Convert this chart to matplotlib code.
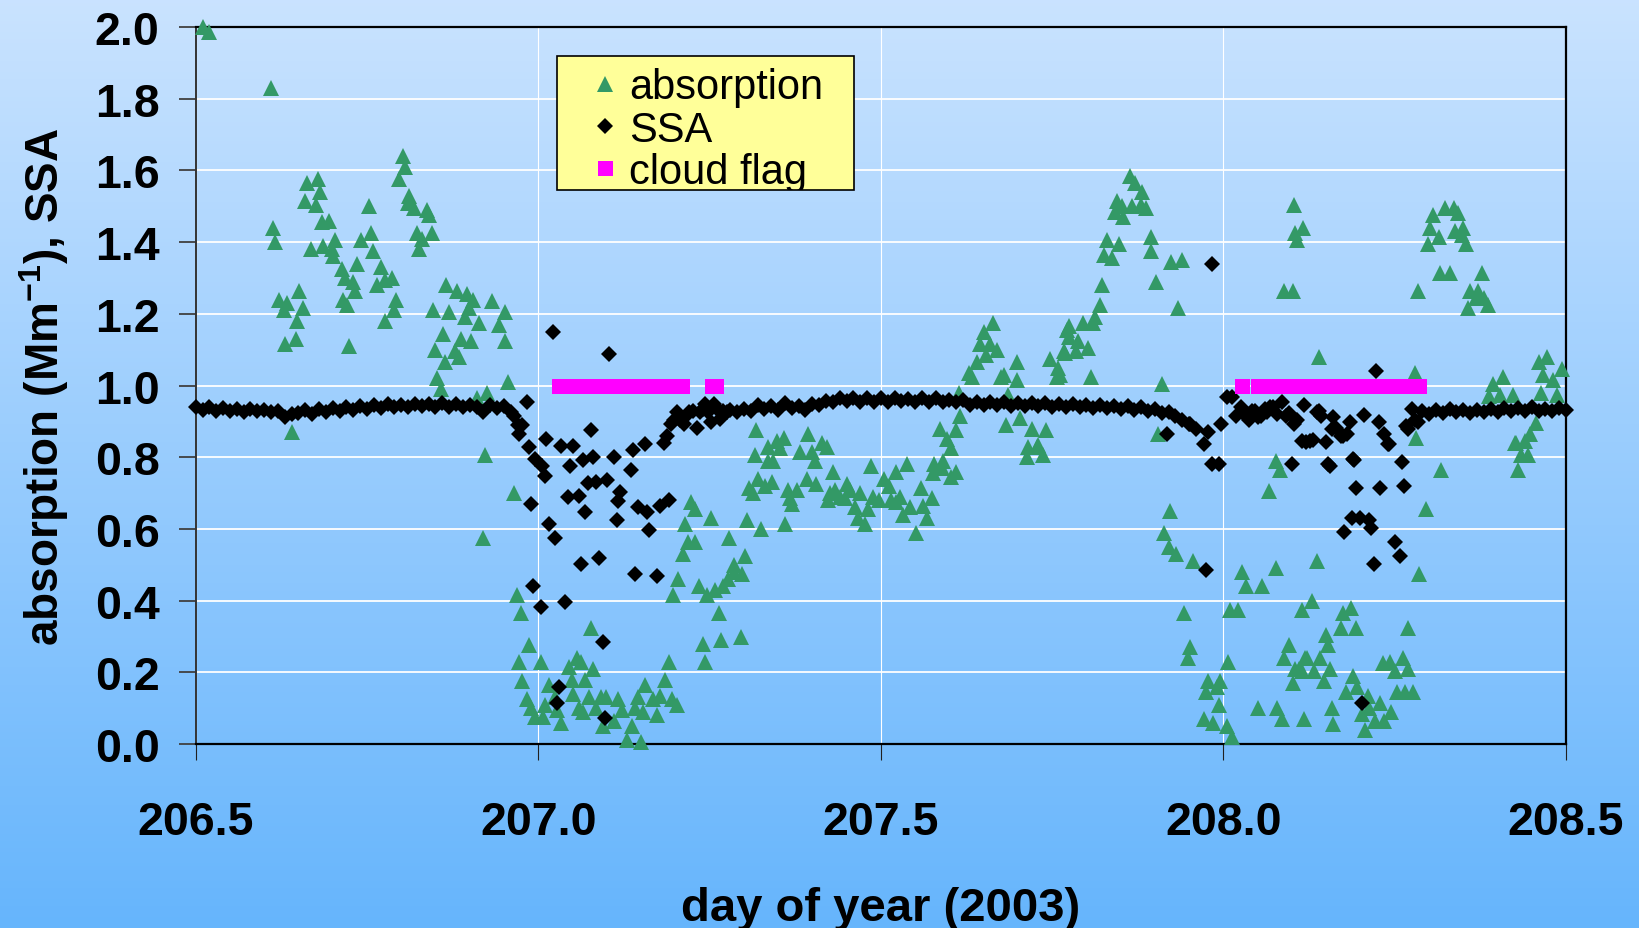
import numpy as np
import matplotlib
matplotlib.use("Agg")
import matplotlib.pyplot as plt
from matplotlib.patches import Rectangle

plt.rcParams['font.family'] = ['Liberation Sans', 'DejaVu Sans']
plt.rcParams['mathtext.fontset'] = 'custom'
plt.rcParams['mathtext.rm'] = 'Liberation Sans'
plt.rcParams['mathtext.bf'] = 'Liberation Sans:bold'

# absorption (Mm-1): (day of year, value)
absorption = [
    (206.511, 2.00), (206.519, 1.985), (206.610, 1.83), (206.613, 1.44), (206.616, 1.40),
    (206.622, 1.24), (206.629, 1.21), (206.631, 1.115), (206.634, 1.23), (206.640, 0.87),
    (206.646, 1.13), (206.648, 1.18), (206.651, 1.265), (206.657, 1.215), (206.660, 1.515),
    (206.663, 1.565), (206.669, 1.38), (206.675, 1.505), (206.678, 1.575), (206.681, 1.54),
    (206.685, 1.455), (206.686, 1.39), (206.694, 1.46), (206.699, 1.38), (206.701, 1.36),
    (206.704, 1.405), (206.713, 1.325), (206.715, 1.24), (206.718, 1.30), (206.721, 1.225),
    (206.724, 1.11), (206.730, 1.29), (206.733, 1.265), (206.736, 1.34), (206.742, 1.405),
    (206.753, 1.50), (206.756, 1.425), (206.759, 1.375), (206.764, 1.28), (206.771, 1.33),
    (206.776, 1.295), (206.776, 1.18), (206.786, 1.30), (206.789, 1.21), (206.793, 1.24),
    (206.797, 1.575), (206.803, 1.64), (206.806, 1.61), (206.810, 1.51), (206.811, 1.53),
    (206.819, 1.495), (206.823, 1.425), (206.826, 1.38), (206.830, 1.41), (206.837, 1.49),
    (206.841, 1.475), (206.845, 1.425), (206.846, 1.21), (206.849, 1.10), (206.852, 1.02),
    (206.858, 0.99), (206.861, 1.145), (206.864, 1.065), (206.866, 1.28), (206.870, 1.205),
    (206.879, 1.095), (206.881, 1.265), (206.885, 1.08), (206.887, 1.13), (206.893, 1.19),
    (206.896, 1.255), (206.899, 1.215), (206.902, 1.125), (206.905, 1.24), (206.910, 0.965),
    (206.914, 1.175), (206.919, 0.575), (206.922, 0.805), (206.925, 0.98), (206.933, 1.235),
    (206.942, 1.17), (206.951, 1.125), (206.952, 1.205), (206.956, 1.01), (206.965, 0.70),
    (206.969, 0.415), (206.972, 0.23), (206.975, 0.365), (206.977, 0.175), (206.984, 0.125),
    (206.987, 0.275), (206.990, 0.10), (206.995, 0.075), (207.004, 0.23), (207.007, 0.075),
    (207.010, 0.11), (207.016, 0.165), (207.025, 0.13), (207.028, 0.095), (207.033, 0.06),
    (207.045, 0.215), (207.049, 0.18), (207.050, 0.14), (207.056, 0.24), (207.059, 0.10),
    (207.063, 0.23), (207.066, 0.09), (207.068, 0.18), (207.074, 0.13), (207.077, 0.325),
    (207.080, 0.21), (207.085, 0.10), (207.091, 0.13), (207.094, 0.05), (207.099, 0.13),
    (207.110, 0.065), (207.117, 0.125), (207.122, 0.095), (207.130, 0.01), (207.137, 0.05),
    (207.141, 0.10), (207.146, 0.13), (207.150, 0.005), (207.153, 0.09), (207.156, 0.165),
    (207.168, 0.125), (207.173, 0.08), (207.178, 0.135), (207.185, 0.18), (207.191, 0.23),
    (207.195, 0.125), (207.196, 0.415), (207.202, 0.11), (207.204, 0.46), (207.211, 0.53),
    (207.214, 0.615), (207.219, 0.565), (207.223, 0.675), (207.229, 0.655), (207.229, 0.565),
    (207.234, 0.44), (207.240, 0.28), (207.243, 0.23), (207.246, 0.415), (207.252, 0.63),
    (207.258, 0.43), (207.264, 0.365), (207.267, 0.29), (207.270, 0.44), (207.277, 0.46),
    (207.278, 0.575), (207.285, 0.48), (207.286, 0.50), (207.296, 0.30), (207.298, 0.475),
    (207.302, 0.525), (207.304, 0.625), (207.307, 0.715), (207.313, 0.70), (207.316, 0.805),
    (207.318, 0.875), (207.321, 0.74), (207.325, 0.60), (207.331, 0.72), (207.335, 0.79),
    (207.336, 0.83), (207.341, 0.73), (207.342, 0.79), (207.348, 0.845), (207.353, 0.825),
    (207.358, 0.855), (207.360, 0.615), (207.365, 0.71), (207.367, 0.685), (207.371, 0.67),
    (207.377, 0.71), (207.382, 0.815), (207.392, 0.74), (207.394, 0.865), (207.399, 0.815),
    (207.404, 0.79), (207.406, 0.725), (207.414, 0.84), (207.422, 0.83), (207.423, 0.68),
    (207.426, 0.70), (207.430, 0.76), (207.433, 0.71), (207.440, 0.69), (207.448, 0.685),
    (207.450, 0.725), (207.455, 0.71), (207.462, 0.66), (207.467, 0.63), (207.469, 0.70),
    (207.477, 0.615), (207.481, 0.655), (207.485, 0.775), (207.489, 0.69), (207.498, 0.68),
    (207.504, 0.74), (207.512, 0.72), (207.515, 0.68), (207.522, 0.76), (207.522, 0.675),
    (207.528, 0.69), (207.533, 0.64), (207.538, 0.78), (207.543, 0.66), (207.552, 0.59),
    (207.558, 0.715), (207.562, 0.665), (207.567, 0.63), (207.574, 0.685), (207.576, 0.755),
    (207.577, 0.78), (207.586, 0.88), (207.589, 0.77), (207.591, 0.79), (207.596, 0.85),
    (207.602, 0.745), (207.603, 0.825), (207.609, 0.76), (207.610, 0.875), (207.614, 0.98),
    (207.615, 0.915), (207.628, 1.035), (207.633, 1.025), (207.640, 1.065), (207.644, 1.115),
    (207.650, 1.15), (207.653, 1.085), (207.660, 1.115), (207.663, 1.175), (207.670, 1.10),
    (207.676, 1.025), (207.680, 1.03), (207.683, 0.89), (207.686, 0.975), (207.698, 1.065),
    (207.698, 1.015), (207.703, 0.91), (207.713, 0.80), (207.715, 0.83), (207.720, 0.88),
    (207.728, 0.83), (207.730, 0.835), (207.737, 0.805), (207.741, 0.875), (207.747, 1.075),
    (207.757, 1.025), (207.759, 1.05), (207.762, 1.03), (207.767, 1.095), (207.769, 1.09),
    (207.771, 1.155), (207.774, 1.165), (207.775, 1.135), (207.785, 1.095), (207.788, 1.125),
    (207.795, 1.175), (207.802, 1.105), (207.806, 1.025), (207.810, 1.175), (207.813, 1.19),
    (207.820, 1.225), (207.823, 1.28), (207.825, 1.365), (207.830, 1.405), (207.837, 1.355),
    (207.842, 1.485), (207.844, 1.515), (207.847, 1.395), (207.852, 1.50), (207.854, 1.47),
    (207.864, 1.585), (207.866, 1.50), (207.871, 1.565), (207.879, 1.505), (207.881, 1.54),
    (207.887, 1.495), (207.895, 1.415), (207.895, 1.375), (207.902, 1.29), (207.905, 0.865),
    (207.911, 1.005), (207.913, 0.59), (207.920, 0.55), (207.922, 0.65), (207.924, 1.345),
    (207.931, 0.53), (207.934, 1.215), (207.939, 1.35), (207.943, 0.365), (207.948, 0.24),
    (207.951, 0.27), (207.955, 0.51), (207.971, 0.07), (207.975, 0.145), (207.977, 0.175),
    (207.985, 0.06), (207.990, 0.16), (207.993, 0.11), (207.995, 0.175), (208.005, 0.05),
    (208.007, 0.23), (208.009, 0.375), (208.012, 0.02), (208.021, 0.375), (208.027, 0.48),
    (208.033, 0.44), (208.051, 0.10), (208.056, 0.44), (208.067, 0.705), (208.076, 0.79),
    (208.077, 0.49), (208.078, 0.10), (208.082, 0.765), (208.085, 0.07), (208.088, 1.265),
    (208.089, 0.24), (208.095, 0.275), (208.101, 0.17), (208.101, 1.265), (208.103, 1.505),
    (208.105, 1.425), (208.105, 0.21), (208.108, 1.405), (208.110, 0.21), (208.115, 0.375),
    (208.115, 0.205), (208.116, 1.44), (208.118, 0.07), (208.119, 0.24), (208.122, 0.24),
    (208.129, 0.40), (208.132, 0.205), (208.136, 0.51), (208.139, 1.08), (208.141, 0.24),
    (208.147, 0.175), (208.150, 0.305), (208.152, 0.275), (208.156, 0.21), (208.159, 0.10),
    (208.160, 0.055), (208.171, 0.325), (208.175, 0.365), (208.179, 0.145), (208.186, 0.38),
    (208.189, 0.19), (208.194, 0.325), (208.195, 0.16), (208.202, 0.085), (208.206, 0.04),
    (208.211, 0.135), (208.213, 0.10), (208.221, 0.065), (208.229, 0.115), (208.233, 0.225),
    (208.234, 0.065), (208.243, 0.23), (208.244, 0.09), (208.250, 0.205), (208.253, 0.145),
    (208.262, 0.24), (208.265, 0.145), (208.269, 0.325), (208.270, 0.21), (208.277, 0.145),
    (208.279, 1.035), (208.281, 0.855), (208.284, 1.265), (208.286, 0.475), (208.295, 0.655),
    (208.299, 1.395), (208.301, 1.44), (208.306, 1.475), (208.314, 1.415), (208.316, 1.315),
    (208.318, 0.765), (208.323, 1.495), (208.331, 1.315), (208.336, 1.495), (208.338, 1.43),
    (208.343, 1.48), (208.348, 1.42), (208.350, 1.44), (208.354, 1.395), (208.357, 1.215),
    (208.360, 1.265), (208.368, 1.245), (208.372, 1.265), (208.377, 1.315), (208.380, 1.245),
    (208.386, 1.225), (208.387, 0.97), (208.394, 1.005), (208.404, 0.975), (208.408, 1.025),
    (208.423, 0.975), (208.425, 0.84), (208.427, 0.84), (208.430, 0.765), (208.435, 0.805),
    (208.440, 0.845), (208.445, 0.805), (208.447, 0.865), (208.456, 0.895), (208.461, 1.065),
    (208.464, 0.98), (208.467, 1.03), (208.472, 1.08), (208.481, 1.015), (208.487, 0.975),
    (208.494, 1.045),
]

# SSA, steady stretches sampled every 0.01 day
ssa_run1_start = 206.50
ssa_run1 = [0.940, 0.932, 0.939, 0.930, 0.938, 0.929, 0.936, 0.927, 0.935, 0.928,
            0.933, 0.925, 0.929, 0.913, 0.921, 0.923, 0.932, 0.922, 0.934, 0.925,
            0.937, 0.928, 0.940, 0.933, 0.942, 0.936, 0.946, 0.937, 0.948, 0.940,
            0.947, 0.941, 0.949, 0.942, 0.948, 0.940, 0.950, 0.941, 0.949, 0.940,
            0.946, 0.939, 0.926, 0.946, 0.938, 0.942, 0.925]
ssa_run2_start = 207.28
ssa_run2 = [0.933, 0.926, 0.936, 0.929, 0.946, 0.935, 0.944, 0.933, 0.952, 0.937,
            0.942, 0.933, 0.948, 0.945, 0.957, 0.955, 0.966, 0.956, 0.966, 0.954,
            0.965, 0.955, 0.965, 0.953, 0.964, 0.957, 0.963, 0.953, 0.965, 0.954,
            0.966, 0.955, 0.961, 0.953, 0.961, 0.947, 0.955, 0.946, 0.954, 0.945,
            0.953, 0.944, 0.952, 0.943, 0.951, 0.942, 0.950, 0.941, 0.949, 0.940,
            0.948, 0.939, 0.947, 0.938, 0.946, 0.937, 0.944, 0.935, 0.943, 0.932,
            0.940, 0.930, 0.934, 0.924, 0.926, 0.914, 0.905, 0.892]
ssa_run3_start = 208.29
ssa_run3 = [0.928, 0.922, 0.932, 0.924, 0.934, 0.925, 0.931, 0.924, 0.933, 0.926,
            0.934, 0.927, 0.937, 0.928, 0.938, 0.929, 0.939, 0.930, 0.936, 0.929,
            0.937, 0.931]

# SSA during the two cloudy periods: (day, value)
ssa_scatter = [
    (206.965, 0.915), (206.970, 0.890), (206.972, 0.865), (206.976, 0.890), (206.984, 0.955),
    (206.986, 0.828), (206.989, 0.671), (206.992, 0.442), (206.995, 0.795), (207.004, 0.381),
    (207.005, 0.776), (207.010, 0.748), (207.012, 0.851), (207.015, 0.614), (207.021, 1.148),
    (207.025, 0.575), (207.027, 0.114), (207.030, 0.158), (207.033, 0.832), (207.039, 0.397),
    (207.044, 0.688), (207.047, 0.776), (207.050, 0.832), (207.059, 0.693), (207.062, 0.503),
    (207.065, 0.793), (207.068, 0.648), (207.073, 0.728), (207.077, 0.877), (207.080, 0.800),
    (207.085, 0.732), (207.088, 0.520), (207.094, 0.285), (207.097, 0.074), (207.100, 0.737),
    (207.103, 1.088), (207.111, 0.800), (207.115, 0.625), (207.117, 0.679), (207.120, 0.702),
    (207.135, 0.765), (207.138, 0.821), (207.141, 0.474), (207.146, 0.660), (207.156, 0.837),
    (207.158, 0.648), (207.161, 0.598), (207.173, 0.470), (207.178, 0.665), (207.184, 0.841),
    (207.188, 0.860), (207.191, 0.681), (207.194, 0.893), (207.198, 0.905), (207.202, 0.925),
    (207.207, 0.905), (207.212, 0.893), (207.215, 0.916), (207.220, 0.925), (207.226, 0.930),
    (207.231, 0.883), (207.236, 0.925), (207.240, 0.935), (207.244, 0.948), (207.248, 0.925),
    (207.252, 0.897), (207.257, 0.948), (207.261, 0.935), (207.265, 0.907), (207.270, 0.930),
    (207.275, 0.925),
    (207.918, 0.865), (207.951, 0.893), (207.960, 0.880), (207.972, 0.837), (207.975, 0.486),
    (207.978, 0.871), (207.983, 1.339), (207.984, 0.781), (207.993, 0.781), (207.996, 0.893),
    (208.005, 0.967), (208.013, 0.967), (208.018, 0.915), (208.025, 0.939), (208.030, 0.920),
    (208.037, 0.904), (208.042, 0.928), (208.046, 0.930), (208.050, 0.912), (208.055, 0.916),
    (208.060, 0.935), (208.064, 0.925), (208.068, 0.940), (208.073, 0.939), (208.078, 0.920),
    (208.085, 0.953), (208.091, 0.916), (208.095, 0.923), (208.100, 0.781), (208.103, 0.893),
    (208.108, 0.905), (208.115, 0.846), (208.118, 0.946), (208.121, 0.843), (208.127, 0.846),
    (208.131, 0.848), (208.136, 0.925), (208.139, 0.928), (208.143, 0.915), (208.150, 0.843),
    (208.153, 0.781), (208.156, 0.776), (208.159, 0.880), (208.160, 0.912), (208.165, 0.883),
    (208.171, 0.859), (208.174, 0.860), (208.176, 0.592), (208.180, 0.864), (208.185, 0.897),
    (208.187, 0.630), (208.189, 0.795), (208.191, 0.793), (208.194, 0.715), (208.199, 0.630),
    (208.202, 0.114), (208.205, 0.918), (208.212, 0.624), (208.216, 0.603), (208.220, 0.503),
    (208.223, 1.040), (208.227, 0.897), (208.229, 0.715), (208.234, 0.864), (208.240, 0.837),
    (208.242, 0.838), (208.250, 0.564), (208.258, 0.525), (208.260, 0.787), (208.263, 0.720),
    (208.266, 0.888), (208.270, 0.880), (208.275, 0.934), (208.280, 0.905), (208.284, 0.897),
]

# cloud flag (plotted at 1.0)
cloud_days = [207.03, 207.04, 207.05, 207.06, 207.07, 207.08, 207.09, 207.10, 207.11,
              207.12, 207.13, 207.14, 207.15, 207.16, 207.17, 207.18, 207.19, 207.20,
              207.21, 207.253, 207.260,
              208.027, 208.051, 208.06, 208.07, 208.08, 208.09, 208.10, 208.11, 208.12,
              208.13, 208.14, 208.15, 208.16, 208.17, 208.18, 208.19, 208.20, 208.21,
              208.22, 208.23, 208.24, 208.25, 208.26, 208.27, 208.28, 208.286]
cloud_level = 1.0

x_ticks = [206.5, 207.0, 207.5, 208.0, 208.5]
y_ticks = [0.0, 0.2, 0.4, 0.6, 0.8, 1.0, 1.2, 1.4, 1.6, 1.8, 2.0]

abs_day, abs_val = np.array(absorption).T
ssa_day = np.concatenate([
    ssa_run1_start + 0.01 * np.arange(len(ssa_run1)),
    np.array(ssa_scatter)[:, 0],
    ssa_run2_start + 0.01 * np.arange(len(ssa_run2)),
    ssa_run3_start + 0.01 * np.arange(len(ssa_run3)),
])
ssa_val = np.concatenate([ssa_run1, np.array(ssa_scatter)[:, 1], ssa_run2, ssa_run3])
order = np.argsort(ssa_day)
ssa_day, ssa_val = ssa_day[order], ssa_val[order]

fig = plt.figure(figsize=(16.4, 9.29), dpi=100)

# blue gradient backdrop
bg = fig.add_axes([0, 0, 1, 1], zorder=-1)
grad = np.linspace(0, 1, 256)[:, None]
top = np.array([0.79, 0.89, 1.0])
bot = np.array([0.40, 0.71, 0.99])
img = top[None, None, :] * (1 - grad[..., None]) + bot[None, None, :] * grad[..., None]
bg.imshow(np.repeat(img, 2, axis=1), aspect='auto', extent=(0, 1, 0, 1))
bg.axis('off')

ax = fig.add_axes([0.1193, 0.198, 0.8356, 0.7718])
ax.set_facecolor('none')

ax.plot(abs_day, abs_val, linestyle='none', marker='^', ms=11, color='#339966',
        mew=0, label='absorption', clip_on=False, zorder=3)
ax.plot(ssa_day, ssa_val, linestyle='none', marker='D', ms=8, color='black',
        mew=0, label='SSA', clip_on=False, zorder=4)
ax.plot(cloud_days, [cloud_level] * len(cloud_days), linestyle='none', marker='s',
        ms=10.8, color='#FF00FF', mew=0, label='cloud flag', clip_on=False, zorder=5)

ax.set_xlim(206.5, 208.5)
ax.set_ylim(0, 2.0)
ax.set_xticks(x_ticks)
ax.set_yticks(y_ticks)
ax.set_xticklabels([f'{t:.1f}' for t in x_ticks])
ax.set_yticklabels([f'{t:.1f}' for t in y_ticks])
ax.grid(axis='y', color='white', lw=1.3)
ax.grid(axis='x', color='white', lw=0.8)
ax.set_axisbelow(True)

ax.tick_params(axis='y', length=12, width=1.3, pad=14, labelsize=33.5, color='#404040')
ax.tick_params(axis='x', length=11.5, width=0.8, pad=29, labelsize=33.5, color='#202020')
for lab in ax.get_xticklabels() + ax.get_yticklabels():
    lab.set_fontweight('bold')

for side in ['top', 'right', 'bottom']:
    ax.spines[side].set_color('black')
    ax.spines[side].set_linewidth(1.6)
ax.spines['left'].set_color('#333333')
ax.spines['left'].set_linewidth(1.4)

ax.set_xlabel('day of year (2003)', fontsize=34, fontweight='bold', va='center')
ax.xaxis.set_label_coords(0.5, -0.229)
ax.set_ylabel('absorption (Mm$^{\\mathbf{-1}}$), SSA', fontsize=33, fontweight='bold',
              va='center')
ax.yaxis.set_label_coords(-0.1106, 0.5)

# legend box drawn at a fixed size; the entries are clipped to it
box = Rectangle((0.2634, 0.7721), 0.2167, 0.1882, transform=ax.transAxes,
                facecolor='#FFFF99', edgecolor='black', lw=1.2, zorder=6, clip_on=False)
ax.add_patch(box)
leg = ax.legend(loc='upper left', bbox_to_anchor=(0.2863, 0.9495), borderaxespad=0,
                fontsize=30, labelspacing=0.05, handlelength=0.6, handletextpad=0.28,
                borderpad=0.1, frameon=False)
leg.set_zorder(7)
for t in leg.get_texts():
    t.set_clip_path(box)

fig.savefig('out.png', dpi=100)
